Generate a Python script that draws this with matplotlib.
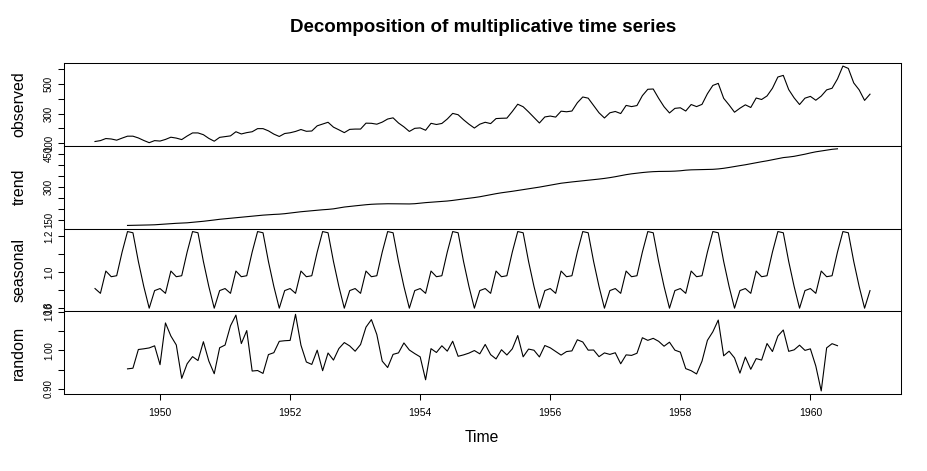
import numpy as np
import matplotlib
matplotlib.use("Agg")
import matplotlib.pyplot as plt

NA = float("nan")

# monthly, Jan 1949 .. Dec 1960
observed = [112, 118, 132, 129, 121, 135, 148, 148, 136, 119, 104, 118,
            115, 126, 141, 135, 125, 149, 170, 170, 158, 133, 114, 140,
            145, 150, 178, 163, 172, 178, 199, 199, 184, 162, 146, 166,
            171, 180, 193, 181, 183, 218, 230, 242, 209, 191, 172, 194,
            196, 196, 236, 235, 229, 243, 264, 272, 237, 211, 180, 201,
            204, 188, 235, 227, 234, 264, 302, 293, 259, 229, 203, 229,
            242, 233, 267, 269, 270, 315, 364, 347, 312, 274, 237, 278,
            284, 277, 317, 313, 318, 374, 413, 405, 355, 306, 271, 306,
            315, 301, 356, 348, 355, 422, 465, 467, 404, 347, 305, 336,
            340, 318, 362, 348, 363, 435, 491, 505, 404, 359, 310, 337,
            360, 342, 406, 396, 420, 472, 548, 559, 463, 407, 362, 405,
            417, 391, 419, 461, 472, 535, 622, 606, 508, 461, 390, 432]

trend = [NA, NA, NA, NA, NA, NA, 126.7917, 127.2500, 127.9583, 128.5833, 129.0000, 129.7500,
         131.2500, 133.0833, 134.9167, 136.4167, 137.4167, 138.7500, 140.9167, 143.1667, 145.7083, 148.4167, 151.5417, 154.7083,
         157.1250, 159.5417, 161.8333, 164.1250, 166.6667, 169.0833, 171.2500, 173.5833, 175.4583, 176.8333, 178.0417, 180.1667,
         183.1250, 186.2083, 189.0417, 191.2917, 193.5833, 195.8333, 198.0417, 199.7500, 202.2083, 206.2500, 210.4167, 213.3750,
         215.8333, 218.5000, 220.9167, 222.9167, 224.0833, 224.7083, 225.3333, 225.3333, 224.9583, 224.5833, 224.4583, 225.5417,
         228.0000, 230.4583, 232.2500, 233.9167, 235.6250, 237.7500, 240.5000, 243.9583, 247.1667, 250.2500, 253.5000, 257.1250,
         261.8333, 266.6667, 271.1250, 275.2083, 278.5000, 281.9583, 285.7500, 289.3333, 293.2500, 297.1667, 301.0000, 305.4583,
         309.9583, 314.4167, 318.6250, 321.7500, 324.5000, 327.0833, 329.5417, 331.8333, 334.4583, 337.5417, 340.5417, 344.0833,
         348.2500, 353.0000, 357.6250, 361.3750, 364.5000, 367.1667, 369.4583, 371.2083, 372.1667, 372.4167, 372.7500, 373.6250,
         375.2500, 377.9167, 379.5000, 380.0000, 380.7083, 380.9583, 381.8333, 383.6667, 386.5000, 390.3333, 394.7083, 398.6250,
         402.5417, 407.1667, 411.8750, 416.3333, 420.5000, 425.5000, 430.7083, 435.1250, 437.7083, 440.9583, 445.8333, 450.6250,
         456.3333, 461.3750, 465.2083, 469.3333, 472.7500, 475.0417, NA, NA, NA, NA, NA, NA]

seasonal_figure = [0.91023, 0.88363, 1.00737, 0.97591, 0.98138, 1.11278,
                   1.22656, 1.21991, 1.06049, 0.92176, 0.80118, 0.89882]
seasonal = seasonal_figure * 12

random_part = [NA, NA, NA, NA, NA, NA, 0.9517, 0.9534, 1.0022, 1.0040, 1.0063, 1.0118,
               0.9626, 1.0715, 1.0374, 1.0140, 0.9269, 0.9650, 0.9836, 0.9734, 1.0225, 0.9722, 0.9390, 1.0068,
               1.0138, 1.0640, 1.0919, 1.0177, 1.0516, 0.9460, 0.9474, 0.9398, 0.9889, 0.9939, 1.0235, 1.0251,
               1.0259, 1.0940, 1.0135, 0.9696, 0.9633, 1.0004, 0.9469, 0.9931, 0.9746, 1.0047, 1.0203, 1.0115,
               0.9977, 1.0152, 1.0605, 1.0802, 1.0413, 0.9718, 0.9552, 0.9895, 0.9934, 1.0193, 1.0009, 0.9915,
               0.9830, 0.9232, 1.0044, 0.9944, 1.0119, 0.9979, 1.0238, 0.9845, 0.9881, 0.9928, 0.9995, 0.9909,
               1.0154, 0.9888, 0.9776, 1.0016, 0.9879, 1.0040, 1.0386, 0.9831, 1.0033, 1.0003, 0.9828, 1.0126,
               1.0066, 0.9970, 0.9876, 0.9968, 0.9986, 1.0276, 1.0218, 1.0005, 1.0009, 0.9835, 0.9933, 0.9894,
               0.9937, 0.9650, 0.9882, 0.9868, 0.9924, 1.0329, 1.0261, 1.0313, 1.0236, 1.0108, 1.0213, 1.0005,
               0.9954, 0.9523, 0.9469, 0.9384, 0.9716, 1.0261, 1.0484, 1.0790, 0.9857, 0.9978, 0.9803, 0.9406,
               0.9825, 0.9506, 0.9785, 0.9746, 1.0178, 0.9969, 1.0373, 1.0531, 0.9974, 1.0013, 1.0135, 0.9999,
               1.0039, 0.9591, 0.8941, 1.0065, 1.0174, 1.0121, NA, NA, NA, NA, NA, NA]

panel_names = ["observed", "trend", "seasonal", "random"]
y_ticks = [[100, 200, 300, 400, 500, 600],
           [150, 200, 250, 300, 350, 400, 450],
           [0.8, 0.9, 1.0, 1.1, 1.2],
           [0.90, 0.95, 1.00, 1.05, 1.10]]
y_ticklabels = [["100", "", "300", "", "500", ""],
                ["150", "", "", "300", "", "", "450"],
                ["0.8", "", "1.0", "", "1.2"],
                ["0.90", "", "1.00", "", "1.10"]]
x_ticks = [1950, 1952, 1954, 1956, 1958, 1960]

t = 1949 + np.arange(len(observed)) / 12

plt.rcParams['font.family'] = ['Liberation Sans', 'DejaVu Sans']
fig, axes = plt.subplots(4, 1, figsize=(9.28, 4.71), dpi=100, sharex=True)
fig.subplots_adjust(left=64/928, right=901/928, top=1-63/471, bottom=1-394/471, hspace=0)

series = [observed, trend, seasonal, random_part]
for ax, s, nm, tk, lb in zip(axes, series, panel_names, y_ticks, y_ticklabels):
    ax.plot(t, s, color="black", lw=0.8)
    ax.margins(x=0.04, y=0.04)  # R's 4% axis extension
    ax.set_yticks(tk)
    ax.set_yticklabels(lb)
    ax.tick_params(axis="y", direction="out", length=4.3, width=0.75, labelsize=7,
                   pad=3, labelrotation=90)
    for lab in ax.get_yticklabels():
        lab.set_va("center")
    ax.tick_params(axis="x", bottom=False, labelbottom=False)
    for sp in ax.spines.values():
        sp.set_linewidth(0.75)
    ax.set_ylabel(nm, fontsize=11.5)
    ax.yaxis.set_label_coords(-0.045, 0.5)

axes[-1].set_xticks(x_ticks)
axes[-1].tick_params(axis="x", bottom=True, labelbottom=True, direction="out",
                     length=4.3, width=0.75, labelsize=7.5, pad=6)
fig.text(482/928, 1-438/471, "Time", ha="center", va="center", fontsize=11.3)
fig.text(483/928, 1-28/471, "Decomposition of multiplicative time series",
         ha="center", va="center", fontsize=13.5, fontweight="bold")
fig.savefig("out.png")
